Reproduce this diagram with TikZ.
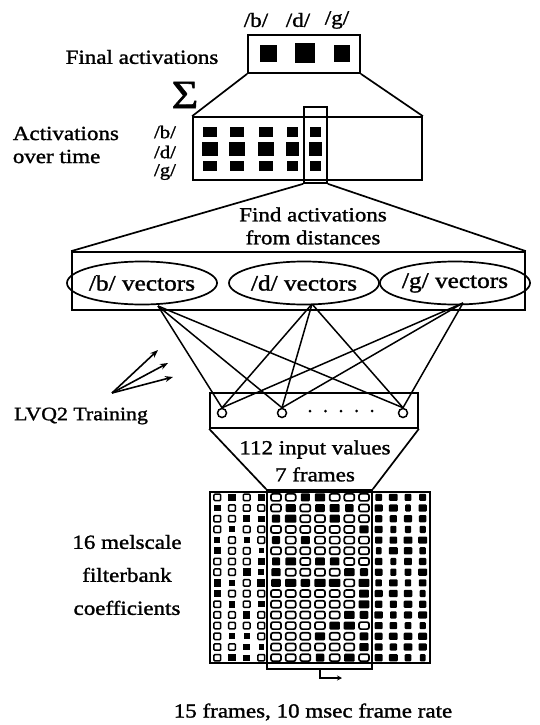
\documentclass[tikz,border=0pt]{standalone}
\usepackage{fontspec}
\setmainfont{Liberation Serif}[FakeStretch=1.15,FakeBold=1.4]
\usetikzlibrary{shapes.geometric,arrows.meta}
\begin{document}
\begin{tikzpicture}[x=1pt,y=-1pt,line width=1.7pt,
  lbl/.style={font=\fontsize{20}{23}\selectfont,align=center,inner sep=0pt},
  phon/.style={font=\fontsize{18}{20}\selectfont,inner sep=0pt},
  box/.style={draw,inner sep=0pt,line width=1.7pt},
  vecell/.style={draw,ellipse,minimum width=128pt,minimum height=43pt,inner sep=0pt,
     font=\fontsize{22}{24}\selectfont,line width=1.7pt},
  unit/.style={draw,circle,minimum size=9pt,inner sep=0pt,fill=white,line width=1.5pt},
  arr/.style={-{Stealth[length=8pt,width=6pt]},line width=1.6pt}]
\useasboundingbox (0,0) rectangle (540,725);

% ---------- final activations ----------
\node[lbl] (tb) at (256,20) {/b/};
\node[lbl] (td) at (298,20) {/d/};
\node[lbl] (tg) at (337,20) {/g/};
\node[box,minimum width=112pt,minimum height=38pt] (fa) at (304,54) {};
\fill (260,45) rectangle (277,62);
\fill (295,43) rectangle (315,63);
\fill (334,45) rectangle (350,62);
\node[lbl] (lfa) at (142,57) {Final activations};
\node[font=\fontsize{40}{40}\selectfont,inner sep=0pt] (sig) at (185,95) {Σ};

% ---------- activations over time ----------
\node[box,minimum width=229pt,minimum height=63pt] (act) at (307.5,148.5) {};
\foreach \x/\w in {210/14,237/14,266/14,292/11,315/11}{
  \fill (\x-\w/2,127) rectangle (\x+\w/2,137);
  \fill (\x-\w/2-1,142) rectangle (\x+\w/2+1,156);
  \fill (\x-\w/2,161) rectangle (\x+\w/2,171);
}
\node[box,minimum width=23pt,minimum height=76pt] (awin) at (315.5,145) {};
\draw (fa.south west) -- (act.north west);
\draw (fa.south east) -- (act.north east);
\node[lbl,anchor=west,align=left] (lat) at (12,145) {Activations\\over time};
\node[phon] (lb) at (165,132) {/b/};
\node[phon] (ld) at (165,152) {/d/};
\node[phon] (lg) at (165,172) {/g/};

% ---------- vectors ----------
\node[box,minimum width=453pt,minimum height=58pt] (vec) at (298.5,281) {};
\draw (awin.south west) -- (vec.north west);
\draw (awin.south east) -- (vec.north east);
\node[lbl] (fad) at (313,226) {Find activations\\from distances};
\node[vecell] (eb) at (142,283) {/b/ vectors};
\node[vecell] (ed) at (304,283) {/d/ vectors};
\node[vecell] (eg) at (455,283) {/g/ vectors};
\coordinate (bb) at (158,306);
\coordinate (db) at (312,304);
\coordinate (gb) at (463,303);

% ---------- input units ----------
\node[box,minimum width=208pt,minimum height=35pt] (inp) at (314,410.5) {};
\node[unit] (i1) at (222,413) {};
\node[unit] (i2) at (282,413) {};
\node[unit] (i3) at (403,413) {};
\foreach \s in {bb,db,gb}{
  \foreach \t in {i1,i2,i3}{
    \draw[line width=1.5pt] (\s) -- (\t.north);
  }
}
\foreach \k in {0,...,4}{\fill (310+15.5*\k,411) circle (1.5);}

% ---------- LVQ2 ----------
\coordinate (lvq) at (112,393);
\coordinate (t1) at (158,350);
\coordinate (t2) at (168,363);
\coordinate (t3) at (173,377);
\draw[arr] (lvq) -- (t1);
\draw[arr] (lvq) -- (t2);
\draw[arr] (lvq) -- (t3);
\node[font=\fontsize{19}{22}\selectfont,inner sep=0pt] (lvql) at (81,416) {LVQ2 Training};

% ---------- spectrogram grid ----------
\node[box,minimum width=220pt,minimum height=171pt] (grid) at (320,577.5) {};
\pgfmathsetseed{23}
\foreach \c in {0,...,14}{
  \foreach \r in {0,...,15}{
    \pgfmathsetmacro{\cx}{210+14.667*(\c+0.5)}
    \pgfmathsetmacro{\cy}{492+10.69*(\r+0.5)}
    \pgfmathsetmacro{\p}{rnd}
    \pgfmathsetmacro{\q}{rnd}
    \ifnum\c>10
      \pgfmathsetmacro{\w}{2.8+1.8*\q}
      \fill[rounded corners=1pt] (\cx-\w,\cy-3.6) rectangle (\cx+\w,\cy+3.6);
    \else
      \ifnum\c>3
        \ifdim\p pt<0.55pt
          \draw[line width=1.7pt,rounded corners=2pt] (\cx-5,\cy-3.5) rectangle (\cx+5,\cy+3.5);
        \else
          \pgfmathsetmacro{\w}{4+1.8*\q}
          \fill[rounded corners=1pt] (\cx-\w,\cy-4) rectangle (\cx+\w,\cy+4);
        \fi
      \else
        \ifdim\p pt<0.62pt
          \draw[line width=1.5pt,rounded corners=1pt] (\cx-3.4,\cy-3.2) rectangle (\cx+3.4,\cy+3.2);
        \else
          \pgfmathsetmacro{\w}{2.6+1.4*\q}
          \fill (\cx-\w,\cy-\w) rectangle (\cx+\w,\cy+\w);
        \fi
      \fi
    \fi
  }
}
\node[box,minimum width=105pt,minimum height=179pt] (gwin) at (319.5,579.5) {};
\draw (inp.south west) -- (gwin.north west);
\draw (inp.south east) -- (gwin.north east);
\node[lbl] (ivl) at (315,461) {112 input values\\[4pt]7 frames};
\coordinate (sh0) at (320,669);
\coordinate (sh1) at (342,678);
\draw[-{Stealth[length=5pt,width=5pt]},line width=1.3pt] (sh0) |- (sh1);

% ---------- labels ----------
\node[lbl] (mel) at (127,575) {16 melscale\\[10pt]filterbank\\[10pt]coefficients};
\node[lbl] (fr) at (313,712) {15 frames, 10 msec frame rate};
\end{tikzpicture}
\end{document}
